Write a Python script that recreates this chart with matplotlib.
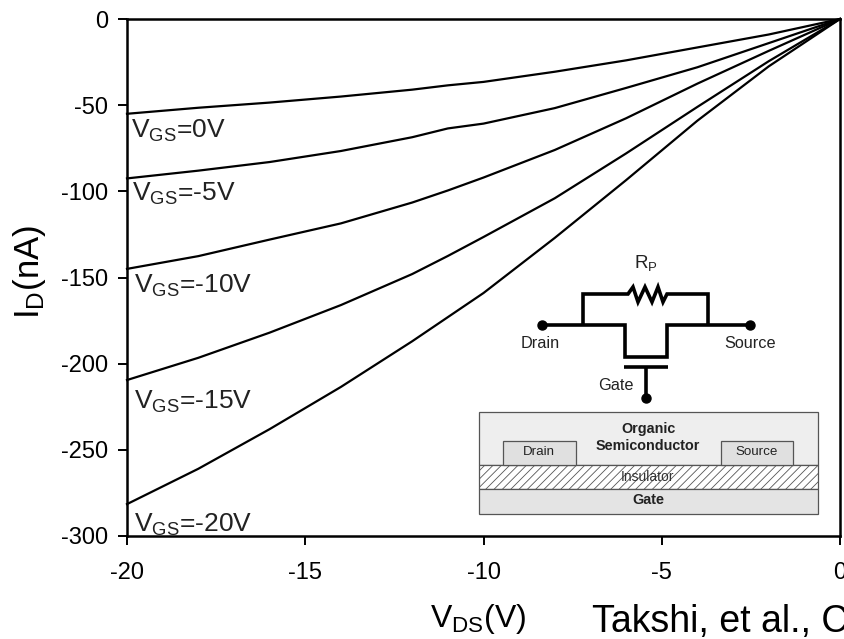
import matplotlib
matplotlib.use("Agg")
import matplotlib.pyplot as plt
from matplotlib.patches import Rectangle

plt.rcParams['font.family'] = ['Liberation Sans', 'DejaVu Sans']
plt.rcParams['mathtext.fontset'] = 'custom'
plt.rcParams['mathtext.rm'] = 'Liberation Sans'
plt.rcParams['mathtext.default'] = 'rm'
plt.rcParams['axes.unicode_minus'] = False
plt.rcParams['hatch.linewidth'] = 0.6
plt.rcParams['hatch.color'] = '#808080'

vds = [-20, -18, -16, -14, -12, -11, -10, -8, -6, -4, -2, 0]
id_0 = [-55, -51.5, -48.5, -45, -41, -38.5, -36.5, -30.6, -24, -16.5, -9, 0]
id_5 = [-92.5, -88, -83, -76.6, -68.6, -63.5, -60.7, -51.7, -40, -28, -14, 0]
id_10 = [-145, -137.6, -128, -118.6, -106.5, -99.5, -92, -76, -57.6, -37.5, -18.5, 0]
id_15 = [-209.5, -196.6, -182, -166, -148, -137.5, -126.5, -104, -78, -51, -24.5, 0]
id_20 = [-281.5, -261, -238, -213.5, -187, -173, -159, -127, -93.5, -59, -27.5, 0]
curves = [id_0, id_5, id_10, id_15, id_20]

xticks = [-20, -15, -10, -5, 0]
yticks = [0, -50, -100, -150, -200, -250, -300]

fig = plt.figure(figsize=(8.44, 6.39), dpi=100)
ax = fig.add_axes([127 / 844, 1 - 536 / 639, 713 / 844, 517 / 639])

for c in curves:
    ax.plot(vds, c, color='black', lw=1.6, clip_on=False)

ax.set_xlim(-20, 0)
ax.set_ylim(-300, 0)
ax.set_xticks(xticks)
ax.set_yticks(yticks)
ax.tick_params(labelsize=17, length=6.5, width=1.4, pad=12)
ax.tick_params(axis='y', pad=7)
for s in ax.spines.values():
    s.set_linewidth(1.8)

# rest of the figure is positioned in pixels
ov = fig.add_axes([0, 0, 1, 1], facecolor='none')
ov.set_xlim(0, 844)
ov.set_ylim(639, 0)
ov.axis('off')

gs_labels = ['$V_{GS}$=0V', '$V_{GS}$=-5V', '$V_{GS}$=-10V', '$V_{GS}$=-15V', '$V_{GS}$=-20V']
gs_x = [131, 132, 134, 134, 134]
gs_y = [138, 201, 293, 409, 532]
for t, x, y in zip(gs_labels, gs_x, gs_y):
    ov.text(x, y, t, fontsize=19, ha='left', va='baseline', color='#222222')

ov.text(30, 272, '$I_D$(nA)', fontsize=25, rotation=90, ha='center', va='center')
ov.text(478, 627, '$V_{DS}$(V)', fontsize=23, ha='center', va='baseline')
ov.text(592, 632, 'Takshi, et al., C', fontsize=27, ha='left', va='baseline')

# circuit
w = dict(color='black', lw=2.6, solid_joinstyle='miter', solid_capstyle='butt')
ov.plot([542, 625, 625, 667, 667, 750], [325, 325, 357, 357, 325, 325], **w)
ov.plot([583, 583, 628, 633, 638, 645, 652, 658, 663, 667, 708, 708],
        [325, 294, 294, 287, 302, 287, 302, 287, 302, 294, 294, 325], **w)
ov.plot([624, 668], [367, 367], **w)
ov.plot([646, 646], [367, 398], **w)
ov.plot([542, 750, 646], [325, 325, 398], 'o', color='black', ms=6.5)
ov.text(646, 263, '$R_P$', fontsize=13.5, ha='center', va='center', color='#222222')
ov.text(540, 344, 'Drain', fontsize=11.7, ha='center', va='center', color='#222222')
ov.text(750, 344, 'Source', fontsize=11.7, ha='center', va='center', color='#222222')
ov.text(616, 386, 'Gate', fontsize=11.7, ha='center', va='center', color='#222222')

# device stack
e = '#555555'
ov.add_patch(Rectangle((479, 412), 339, 53, fc='#eeeeee', ec=e, lw=0.9))
ov.add_patch(Rectangle((479, 465), 339, 24, fc='white', ec=e, lw=0.9, hatch='////'))
ov.add_patch(Rectangle((479, 489), 339, 25, fc='#e4e4e4', ec=e, lw=0.9))
ov.add_patch(Rectangle((503, 441), 73, 24, fc='#e0e0e0', ec=e, lw=0.9))
ov.add_patch(Rectangle((721, 441), 72, 24, fc='#e0e0e0', ec=e, lw=0.9))
ov.text(648, 429, 'Organic', fontsize=10.4, fontweight='bold', ha='center', va='center', color='#222222')
ov.text(648, 446, 'Semiconductor', fontsize=10.4, fontweight='bold', ha='center', va='center', color='#222222')
ov.text(539, 452, 'Drain', fontsize=9.6, ha='center', va='center', color='#222222')
ov.text(757, 452, 'Source', fontsize=9.6, ha='center', va='center', color='#222222')
ov.text(648, 477, 'Insulator', fontsize=10, ha='center', va='center', color='#333333')
ov.text(648, 500, 'Gate', fontsize=10.4, fontweight='bold', ha='center', va='center', color='#222222')

fig.savefig('out.png', dpi=100)
